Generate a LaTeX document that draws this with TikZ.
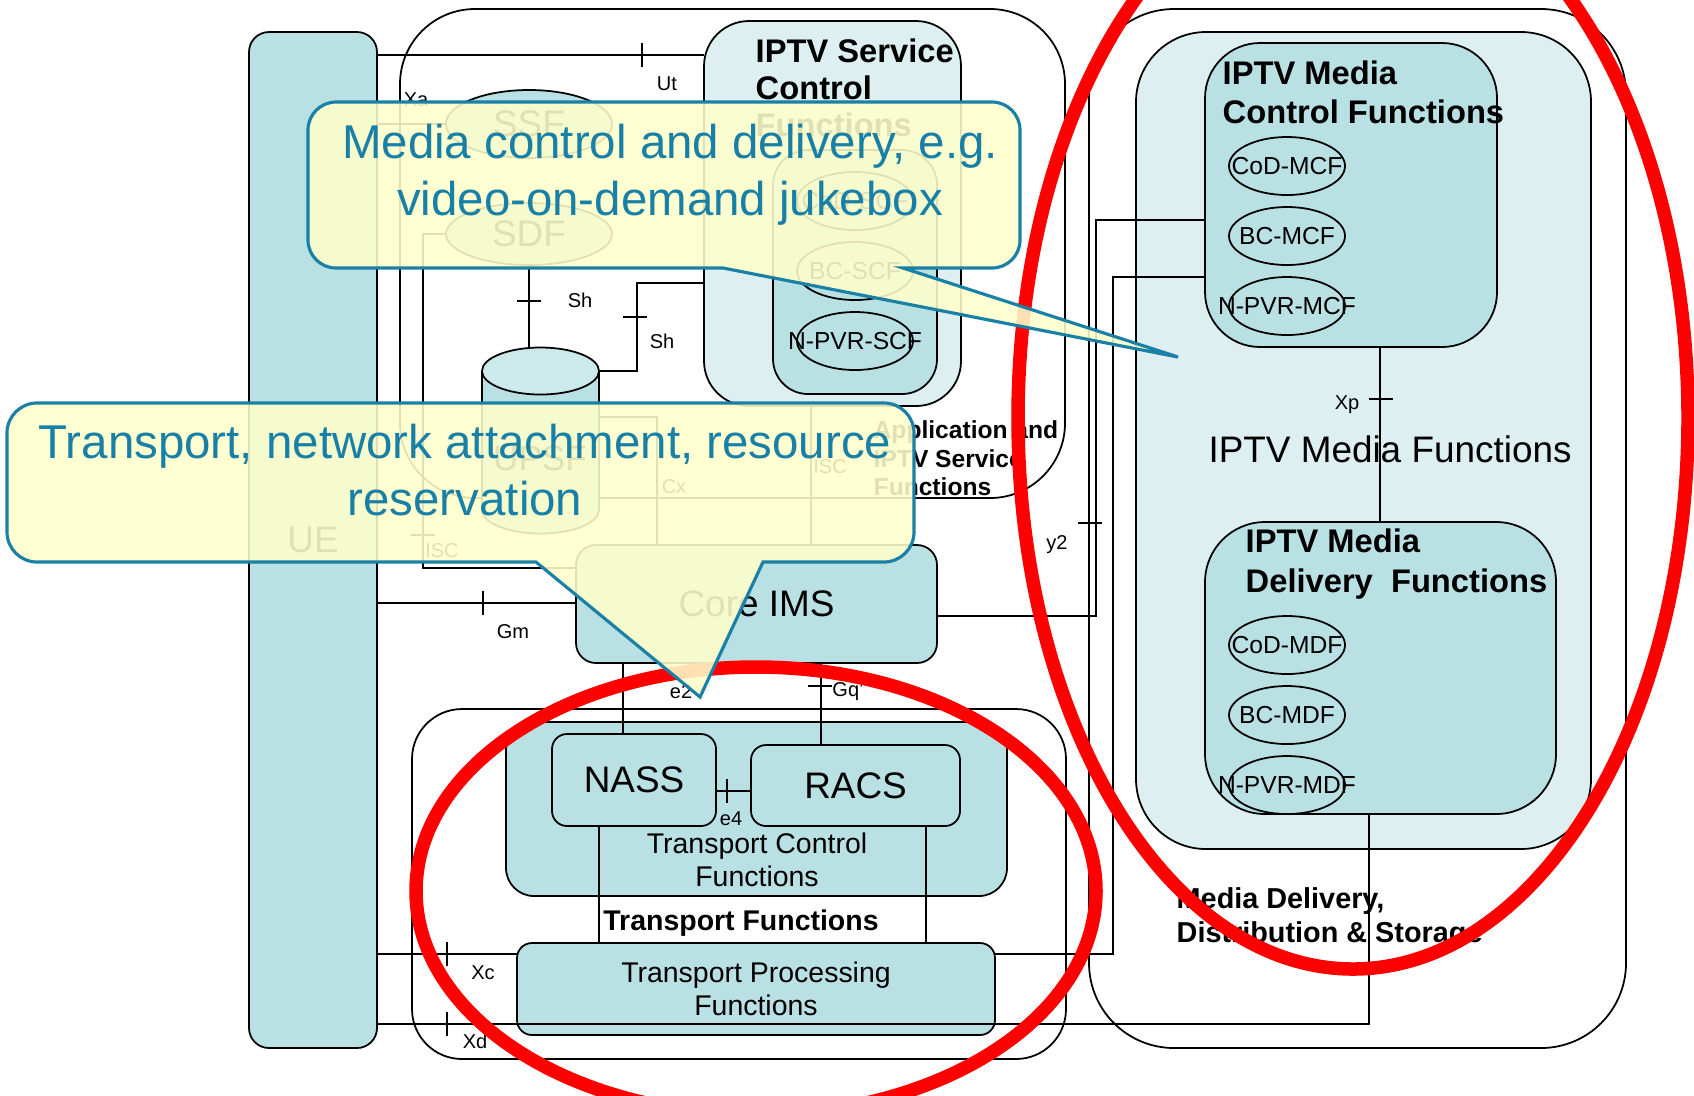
\documentclass[tikz,border=0pt]{standalone}
\usepackage{fontspec}
\setmainfont{Liberation Sans}
\usetikzlibrary{shapes.geometric,calc}
\definecolor{tealbox}{RGB}{185,224,227}
\definecolor{palebox}{RGB}{221,239,241}
\definecolor{cylcap}{RGB}{204,233,235}
\definecolor{calloutfill}{RGB}{255,255,204}
\definecolor{calloutline}{RGB}{27,128,166}
\definecolor{callouttext}{RGB}{24,128,166}
\tikzset{
  frame/.style={draw, line width=0.5pt, inner sep=0pt, outer sep=0pt},
  box/.style={frame, fill=tealbox},
  pale/.style={frame, fill=palebox},
  funclabel/.style={font=\fontsize{7}{8}\selectfont, inner sep=0pt},
  func/.style={ellipse, draw, line width=0.5pt, fill=tealbox, inner sep=0pt,
    minimum width=11.6mm, minimum height=5.8mm, label={[funclabel]center:#1}},
  big/.style={font=\fontsize{10.5}{12}\selectfont},
  title/.style={font=\bfseries\fontsize{9.3}{#1}\selectfont, align=left, inner sep=0pt, anchor=north west},
  plain/.style={font=\fontsize{8.1}{9.4}\selectfont, align=center, inner sep=0pt},
  link/.style={line width=0.4pt},
  iface/.style={font=\fontsize{5.7}{6.5}\selectfont, inner sep=0pt},
  ring/.style={draw=red, line width=1.35mm},
  callout/.style={draw=calloutline, line width=0.9pt, fill=calloutfill, fill opacity=0.88},
  callouttxt/.style={font=\fontsize{13.5}{16.2}\selectfont, text=callouttext, align=center, inner sep=0pt, anchor=north}
}

\begin{document}
\begin{tikzpicture}[x=0.1mm, y=-0.1mm]
  \useasboundingbox (0,0) rectangle (1694,1095);
  \fill[white] (0,0) rectangle (1694,1095);
  \clip (0,0) rectangle (1694,1095);

  % outer groups
  \node[frame, rounded corners=7.5mm, minimum width=66.5mm, minimum height=48.9mm] (appfn) at (732.5,253.5) {};
  \node[frame, rounded corners=5mm, minimum width=65.4mm, minimum height=35mm] (trfn) at (739,884) {};
  \node[frame, rounded corners=8.5mm, minimum width=53.7mm, minimum height=103.9mm] (mdsfn) at (1357.5,528.5) {};

  % user equipment
  \node[box, rounded corners=2mm, minimum width=12.8mm, minimum height=101.6mm, big] (ue) at (313,540) {UE};

  % service control side
  \node[pale, rounded corners=4.5mm, minimum width=25.7mm, minimum height=38.5mm] (isc) at (832.5,213.5) {};
  \node[box, rounded corners=3.5mm, minimum width=16.4mm, minimum height=24.4mm] (scf) at (855,272) {};
  \node[func=CoD-SCF] (codscf) at (855,201) {};
  \node[func=BC-SCF] (bcscf) at (855,271) {};
  \node[func=N-PVR-SCF] (npvrscf) at (855,341) {};
  \node[ellipse, draw, line width=0.5pt, fill=tealbox, inner sep=0pt, minimum width=16.6mm, minimum height=6.8mm, big] (ssf) at (529,124) {SSF};
  \node[ellipse, draw, line width=0.5pt, fill=tealbox, inner sep=0pt, minimum width=16.6mm, minimum height=6.2mm, big] (sdf) at (529,234) {SDF};

  % user profile database
  \node[minimum width=11.7mm, minimum height=18.6mm, inner sep=0pt, outer sep=0pt] (upsf) at (540.5,440) {};
  \coordinate (upsftop) at (540.5,371);
  \coordinate (upsfbot) at (540.5,510);
  \fill[tealbox] (upsf.west |- upsftop) rectangle (upsf.east |- upsfbot);
  \fill[tealbox] (upsfbot) ellipse[x radius=58.5, y radius=23.5];
  \draw[line width=0.5pt] (upsf.west |- upsftop) -- (upsf.west |- upsfbot)
    arc[start angle=180, end angle=0, x radius=58.5, y radius=23.5] -- (upsf.east |- upsftop);
  \draw[line width=0.5pt, fill=cylcap] (upsftop) ellipse[x radius=58.5, y radius=23.5];
  \node[font=\fontsize{10}{12}\selectfont] (upsftxt) at (540,458) {UPSF};

  \node[box, rounded corners=2mm, minimum width=36.1mm, minimum height=11.8mm, big] (coreims) at (756.5,604) {Core IMS};

  % media functions
  \node[pale, rounded corners=7mm, minimum width=45.5mm, minimum height=81.7mm] (mf) at (1363.5,440.5) {};
  \node[box, rounded corners=5.5mm, minimum width=29.2mm, minimum height=30.4mm] (mcf) at (1351,195) {};
  \node[box, rounded corners=6mm, minimum width=35.1mm, minimum height=29.2mm] (mdf) at (1380.5,668) {};
  \node[func=CoD-MCF] (codmcf) at (1287,166) {};
  \node[func=BC-MCF] (bcmcf) at (1287,236) {};
  \node[func=N-PVR-MCF] (npvrmcf) at (1287,306) {};
  \node[func=CoD-MDF] (codmdf) at (1287,645) {};
  \node[func=BC-MDF] (bcmdf) at (1287,715) {};
  \node[func=N-PVR-MDF] (npvrmdf) at (1287,785) {};

  % transport control
  \node[box, rounded corners=2.8mm, minimum width=50.1mm, minimum height=17.4mm] (tcf) at (756.5,809) {};
  \node[box, rounded corners=1.5mm, minimum width=16.4mm, minimum height=9.2mm, big] (nass) at (634,780) {NASS};
  \node[box, rounded corners=1.5mm, minimum width=20.9mm, minimum height=8.1mm, big] (racs) at (855.5,785.5) {RACS};

  % reference points
  \coordinate (yut) at (0,55);
  \coordinate (shbend) at (637,283);
  \coordinate (iscbend) at (423,568);
  \coordinate (cxbend) at (657,417);
  \coordinate (iscx) at (811,0);
  \coordinate (ygm) at (0,603);
  \coordinate (y2bend) at (1096,616);
  \coordinate (mcfa) at (0,220);
  \coordinate (xcbend) at (1113,954);
  \coordinate (mcfb) at (0,277);
  \coordinate (xdbend) at (1369,1024);
  \coordinate (xpx) at (1380,0);
  \coordinate (e2x) at (623,0);
  \coordinate (gqx) at (821,0);
  \coordinate (ye4) at (0,791);
  \coordinate (nassx) at (599,0);
  \coordinate (racsx) at (926,0);

  \draw[link] (ue.east |- yut) -- (isc.west |- yut);
  \draw[link] (ue.east |- ssf.west) -- (ssf.west);
  \draw[link] (sdf.south) -- (upsf.north -| sdf.south);
  \draw[link] (upsf.east |- upsftop) -| (shbend) -- (isc.west |- shbend);
  \draw[link] (sdf.west) -| (iscbend) -- (coreims.west |- iscbend);
  \draw[link] (upsf.east |- cxbend) -- (cxbend) -- (coreims.north -| cxbend);
  \draw[link] (isc.south -| iscx) -- (coreims.north -| iscx);
  \draw[link] (ue.east |- ygm) -- (coreims.west |- ygm);
  \draw[link] (coreims.east |- y2bend) -- (y2bend) |- (mcf.west |- mcfa);
  \draw[link] (ue.east |- xcbend) -- (xcbend) |- (mcf.west |- mcfb);
  \draw[link] (mcf.south -| xpx) -- (mdf.north -| xpx);
  \draw[link] (coreims.south -| e2x) -- (nass.north -| e2x);
  \draw[link] (coreims.south -| gqx) -- (racs.north -| gqx);
  \draw[link] (nass.east |- ye4) -- (racs.west |- ye4);

  \node[box, rounded corners=1.5mm, minimum width=47.8mm, minimum height=9.2mm, plain] (tpf) at (756,989) {Transport Processing\\Functions};
  \draw[link] (nass.south -| nassx) -- (tpf.north -| nassx);
  \draw[link] (racs.south -| racsx) -- (tpf.north -| racsx);
  \draw[link] (ue.east |- xdbend) -- (xdbend) -- (mdf.south -| xdbend);

  % interface ticks
  \foreach \x/\y in {642/55, 483/603, 447/954, 447/1024, 727/791}
    \draw[link] (\x,\y) ++(0,-12) -- ++(0,24);
  \foreach \x/\y in {529/301, 635/317, 423/535, 1090/523, 1381/399, 820/686}
    \draw[link] (\x,\y) ++(-12,0) -- ++(24,0);

  \node[iface] (ut) at (667,84) {Ut};
  \node[iface] (xa) at (416,100) {Xa};
  \node[iface] (sha) at (580,300) {Sh};
  \node[iface] (shb) at (662,341) {Sh};
  \node[iface] (iscl) at (442,551) {ISC};
  \node[iface] (cx) at (674,487) {Cx};
  \node[iface] (iscr) at (830,467) {ISC};
  \node[iface] (gm) at (513,632) {Gm};
  \node[iface] (y2) at (1057,545) {y2};
  \node[iface] (e2) at (681,692) {e2};
  \node[iface] (gq) at (848,692) {Gq'};
  \node[iface] (e4) at (731,819) {e4};
  \node[iface] (xc) at (483,973) {Xc};
  \node[iface] (xd) at (475,1041) {Xd};
  \node[iface] (xp) at (1347,405) {Xp};

  % group titles
  \node[title=10.5pt] (isctitle) at (755,38) {IPTV Service\\Control\\Functions};
  \node[title=11.1pt] (mcftitle) at (1222,60) {IPTV Media\\Control Functions};
  \node[title=11.4pt] (mdftitle) at (1245,528) {IPTV Media\\Delivery~~Functions};
  \node[font=\bfseries\fontsize{7}{8.1}\selectfont, align=left, inner sep=0pt, anchor=north west] (apptitle) at (873,420) {Application and\\IPTV Service\\Functions};
  \node[font=\bfseries\fontsize{8.2}{9.7}\selectfont, align=left, inner sep=0pt, anchor=north west] (mdstitle) at (1176,887) {Media Delivery,\\Distribution \& Storage};
  \node[big, inner sep=0pt, anchor=base] (mftitle) at (1390,462) {IPTV Media Functions};
  \node[font=\bfseries\fontsize{8.1}{9.4}\selectfont, inner sep=0pt, anchor=base] (trtitle) at (741,930) {Transport Functions};
  \node[plain, anchor=north] (tcftitle) at (757,832) {Transport Control\\Functions};

  % highlight rings
  \draw[ring] (1353,418) ellipse[x radius=335, y radius=551];
  \draw[ring] (756,891) ellipse[x radius=340, y radius=224];

  % callouts
  \path[callout] (1178,357) -- (903,268) -- (992,268) arc[start angle=90, end angle=0, radius=28]
    -- (1020,130) arc[start angle=0, end angle=-90, radius=28]
    -- (336,102) arc[start angle=-90, end angle=-180, radius=28]
    -- (308,240) arc[start angle=180, end angle=90, radius=28]
    -- (723,268) -- cycle;
  \node[callouttxt] (mediatxt) at (670,123) {Media control and delivery, e.g.\\video-on-demand jukebox};
  \path[callout] (700,697) -- (763,562) -- (884,562) arc[start angle=90, end angle=0, radius=30]
    -- (914,433) arc[start angle=0, end angle=-90, radius=30]
    -- (37,403) arc[start angle=-90, end angle=-180, radius=30]
    -- (7,532) arc[start angle=180, end angle=90, radius=30]
    -- (536,562) -- cycle;
  \node[callouttxt] (transtxt) at (465,423) {Transport, network attachment, resource\\reservation};
\end{tikzpicture}
\end{document}
